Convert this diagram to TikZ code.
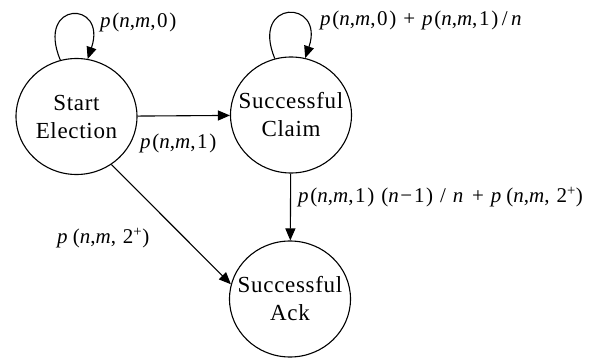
\documentclass[tikz,border=0pt]{standalone}
\usepackage{fontspec}
\setmainfont{Liberation Serif}
\usetikzlibrary{shapes.geometric,arrows.meta}
\newcommand{\mi}[1]{\textit{#1}}
\newfontfamily\nodefont[LetterSpace=3]{Liberation Serif}
\newfontfamily\labfont[LetterSpace=8]{Liberation Serif}
\begin{document}
\begin{tikzpicture}[x=1pt,y=-1pt,
  state/.style={draw, ellipse, line width=1.1pt, minimum width=121pt, minimum height=116pt, inner sep=0pt},
  stext/.style={align=center, font=\nodefont\fontsize{23}{28}\selectfont},
  arr/.style={line width=1.1pt, -{Triangle[length=12pt,width=10pt]}},
  lab/.style={font=\labfont\fontsize{21}{24}\selectfont, inner sep=0pt}]
\useasboundingbox (0,0) rectangle (597,358);
\node[state, label={[stext]center:Start\\Election}] (S) at (76.5,116.5) {};
\node[state, label={[stext]center:Successful\\Claim}] (C) at (291,115) {};
\node[state, label={[stext]center:Successful\\Ack}] (A) at (290,299) {};
\draw[arr] (S) -- (C);
\draw[arr] (C) -- (A);
\draw[arr] (S.-54) -- (A.166);
\draw[arr] (S.106) .. controls +(-25,-60) and +(20,-59) .. (S.79);
\draw[arr] (C.106) .. controls +(-25,-60) and +(20,-59) .. (C.76);
\node[lab, anchor=west] (l1) at (100,22) {\mi{p}(\mi{n},\mi{m},0)};
\node[lab, anchor=west] (l2) at (320,20) {\mi{p}(\mi{n},\mi{m},0) + \mi{p}(\mi{n},\mi{m},1)\,/\,\mi{n}};
\node[lab, anchor=west] (l3) at (140,143) {\mi{p}(\mi{n},\mi{m},1)};
\node[lab, anchor=west] (l4) at (298,197) {\mi{p}(\mi{n},\mi{m},1) (\mi{n}−1) / \mi{n} + \mi{p}\,(\mi{n},\mi{m}, 2\textsuperscript{+})};
\node[lab, anchor=west] (l5) at (57,238) {\mi{p}\,(\mi{n},\mi{m}, 2\textsuperscript{+})};
\end{tikzpicture}
\end{document}
